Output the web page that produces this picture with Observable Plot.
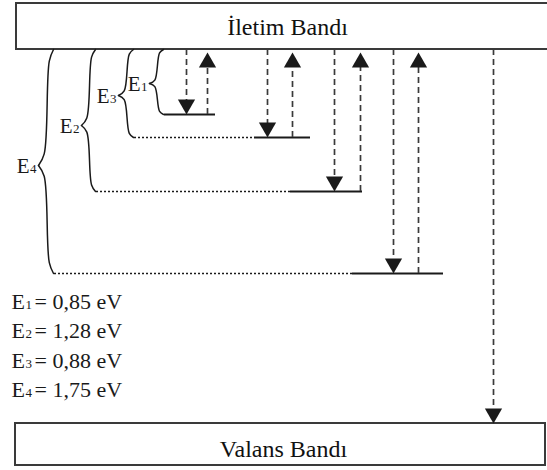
<!DOCTYPE html>
<html><head><meta charset="utf-8">
<script src="https://cdn.jsdelivr.net/npm/d3@7"></script>
<script src="https://cdn.jsdelivr.net/npm/@observablehq/plot@0.6"></script>
<style>body{margin:0;background:#fff}</style>
</head><body><div id="chart"></div>
<script>
const W = 547, H = 470;
// Bands
const bandNames = ["İletim Bandı", "Valans Bandı"];
const bandTop = [3, 423];
const bandBottom = [49, 465];
const bandLeft = [16, 15];
const bandRight = [560, 545];
const bandLabelX = [287, 283];
const bandLabelBaseline = [34, 456];
// Trap levels (ordered by depth below the conduction band)
const levelNames = ["E1", "E3", "E2", "E4"];
const levelDepth = [114, 137, 191, 273];
const braceSpineX = [163, 133, 95, 53];
const braceTipX = [149, 118, 81, 38];
const braceTipY = [83, 95, 125, 165];
const dottedFrom = [163, 134, 96, 54];
const solidFrom = [164, 254, 290, 352];
const solidTo = [215, 310, 362, 443];
const captureX = [186, 267, 334, 393]; // downward transitions
const emitX = [207, 292, 360, 418];    // upward transitions
const bandToBandX = 493;
// Energies
const energyNames = ["E1", "E2", "E3", "E4"];
const energyValues = [0.85, 1.28, 0.88, 1.75];

const serif = "'Liberation Serif', 'Times New Roman', serif";
const ink = "#1a1a1a";
const dash = "#3a3a3a";
const cb = bandBottom[0];   // conduction band edge
const vb = bandTop[1];      // valence band edge
const headR = 6.4, headOff = 10;

const bands = bandNames.map((name, i) => ({name, x1: bandLeft[i], x2: bandRight[i], y1: bandTop[i], y2: bandBottom[i], lx: bandLabelX[i], ly: bandLabelBaseline[i]}));
const levels = levelNames.map((name, i) => ({name, y: levelDepth[i], d1: dottedFrom[i], s1: solidFrom[i], s2: solidTo[i], down: captureX[i], up: emitX[i]}));

const braceRows = levelNames.flatMap((name, i) => {
  const x0 = braceSpineX[i], t = cb, b = levelDepth[i], tx = braceTipX[i], ty = braceTipY[i];
  const w = x0 - tx, h1 = ty - t, h2 = b - ty;
  return [
    [x0, t, 0], [x0 - 0.28 * w, t + 0.1 * h1, 0], [x0 - 0.62 * w, ty - 0.1 * h1, 0], [tx, ty, 0],
    [tx, ty, 1], [x0 - 0.62 * w, ty + 0.1 * h2, 1], [x0 - 0.28 * w, b - 0.1 * h2, 1], [x0, b, 1]
  ].map(([x, y, half]) => ({key: name + half, x, y}));
});
const braceLabels = levelNames.map((name, i) => ({base: name[0], sub: name.slice(1), x: braceTipX[i] - 2, y: braceTipY[i] + 7}));

const legendRows = energyNames.map((name, i) => ({
  base: name[0], sub: name.slice(1),
  rest: "= " + energyValues[i].toFixed(2).replace(".", ",") + " eV",
  y: 308 + i * 29.5
}));

const downHeads = levels.map(d => ({x: d.down, y: d.y}));
downHeads.push({x: bandToBandX, y: vb});

const chart = Plot.plot({
  width: W, height: H,
  margin: 0,
  x: {type: "linear", domain: [0, W], range: [0, W], axis: null},
  y: {type: "linear", domain: [0, H], range: [0, H], axis: null},
  marks: [
    // bands
    Plot.rect(bands, {x1: "x1", x2: "x2", y1: "y1", y2: "y2", fill: "white", stroke: "#3a3a3a", strokeWidth: 2}),
    Plot.text(bands, {x: "lx", y: "ly", text: "name", fontFamily: serif, fontSize: 24, fill: "#111", lineAnchor: "bottom"}),
    // levels
    Plot.ruleY(levels.filter(d => d.s1 - d.d1 > 2), {y: "y", x1: "d1", x2: "s1", stroke: ink, strokeWidth: 1.3, strokeDasharray: "2,2"}),
    Plot.ruleY(levels, {y: "y", x1: "s1", x2: "s2", stroke: ink, strokeWidth: 1.8}),
    // capture (down) transitions
    Plot.ruleX(levels, {x: "down", y1: cb, y2: d => d.y - headOff, stroke: dash, strokeWidth: 1.7, strokeDasharray: "6,4"}),
    Plot.ruleX([bandToBandX], {x: d => d, y1: cb, y2: vb - headOff, stroke: dash, strokeWidth: 1.7, strokeDasharray: "6,4"}),
    // emission (up) transitions
    Plot.ruleX(levels, {x: "up", y1: "y", y2: cb + 3 + headOff, stroke: dash, strokeWidth: 1.7, strokeDasharray: "6,4"}),
    Plot.dot(downHeads, {x: "x", y: "y", dy: -headOff, symbol: "triangle", rotate: 180, r: headR, fill: ink, stroke: "none"}),
    Plot.dot(levels, {x: "up", y: cb + 3, dy: headOff, symbol: "triangle", r: headR, fill: ink, stroke: "none"}),
    // braces
    Plot.line(braceRows, {x: "x", y: "y", z: "key", curve: "catmull-rom", stroke: ink, strokeWidth: 1.5}),
    Plot.text(braceLabels, {x: "x", y: "y", text: "sub", textAnchor: "end", fontFamily: serif, fontSize: 13, fill: ink, lineAnchor: "bottom"}),
    Plot.text(braceLabels, {x: "x", y: "y", dx: -7, text: "base", textAnchor: "end", fontFamily: serif, fontSize: 21, fill: ink, lineAnchor: "bottom"}),
    // legend
    Plot.text(legendRows, {x: 11, y: "y", text: "base", textAnchor: "start", fontFamily: serif, fontSize: 22, fill: ink, lineAnchor: "bottom"}),
    Plot.text(legendRows, {x: 25, y: "y", text: "sub", textAnchor: "start", fontFamily: serif, fontSize: 13, fill: ink, lineAnchor: "bottom"}),
    Plot.text(legendRows, {x: 34, y: "y", text: "rest", textAnchor: "start", fontFamily: serif, fontSize: 22, fill: ink, lineAnchor: "bottom"})
  ]
});
document.getElementById("chart").append(chart);
</script>
</body></html>
